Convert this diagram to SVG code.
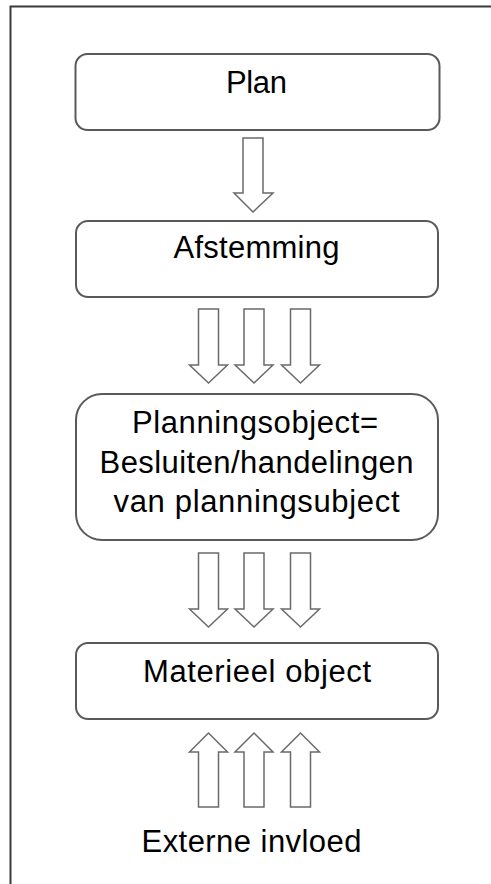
<svg xmlns="http://www.w3.org/2000/svg" width="491" height="884" viewBox="0 0 491 884">
<style>
.frame{fill:#fff;stroke:#3a3a3a;stroke-width:2}
.box{fill:#fff;stroke:#5a5a5a;stroke-width:2}
.arr{fill:#fff;stroke:#6a6a6a;stroke-width:1.5;stroke-linejoin:miter}
.t{font-family:"Liberation Sans",Arial,sans-serif;font-size:31px;fill:#000;text-anchor:middle}
</style>
<rect x="0" y="0" width="491" height="884" fill="#fff"/>
<rect class="frame" x="10.5" y="6.5" width="500" height="900"/>
<g id="connectors">
<path class="arr" d="M243,138 H263 V193 H273 L253,212 L234,193 H243 Z"/>
<path class="arr" d="M198.5,309 H218.5 V365 H227.5 L208.5,383 L189.5,365 H198.5 Z"/>
<path class="arr" d="M244,309 H264 V365 H273 L254,383 L235,365 H244 Z"/>
<path class="arr" d="M290.5,309 H310.5 V365 H319.5 L300.5,383 L281.5,365 H290.5 Z"/>
<path class="arr" d="M198.5,553 H218.5 V609 H227.5 L208.5,627 L189.5,609 H198.5 Z"/>
<path class="arr" d="M244,553 H264 V609 H273 L254,627 L235,609 H244 Z"/>
<path class="arr" d="M290.5,553 H310.5 V609 H319.5 L300.5,627 L281.5,609 H290.5 Z"/>
<path class="arr" d="M198.5,807 H218.5 V752 H227.5 L208.5,733 L189.5,752 H198.5 Z"/>
<path class="arr" d="M244,807 H264 V752 H273 L254,733 L235,752 H244 Z"/>
<path class="arr" d="M290.5,807 H310.5 V752 H319.5 L300.5,733 L281.5,752 H290.5 Z"/>
</g>
<g id="plan">
<rect class="box" x="75.5" y="54" width="364" height="76" rx="12"/>
<text class="t" x="256.5" y="93" textLength="61" lengthAdjust="spacing">Plan</text>
</g>
<g id="afstemming">
<rect class="box" x="76" y="221" width="362" height="76" rx="12"/>
<text class="t" x="256.5" y="258" textLength="166" lengthAdjust="spacing">Afstemming</text>
</g>
<g id="planningsobject">
<rect class="box" x="76" y="394" width="362" height="146" rx="26"/>
<text class="t" x="255" y="433" textLength="246" lengthAdjust="spacing">Planningsobject=</text>
<text class="t" x="256.5" y="473" textLength="314" lengthAdjust="spacing">Besluiten/handelingen</text>
<text class="t" x="256.5" y="511.5" textLength="286" lengthAdjust="spacing">van planningsubject</text>
</g>
<g id="materieel">
<rect class="box" x="76" y="643" width="362" height="76" rx="12"/>
<text class="t" x="257" y="681.5" textLength="228" lengthAdjust="spacing">Materieel object</text>
</g>
<g id="externe">
<text class="t" x="251.5" y="851.5" textLength="220" lengthAdjust="spacing">Externe invloed</text>
</g>
</svg>
